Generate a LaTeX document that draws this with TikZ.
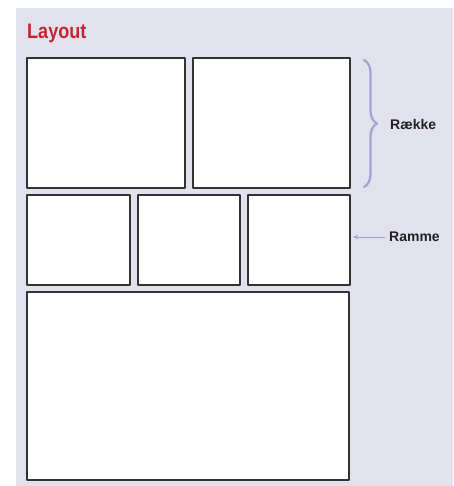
\documentclass[tikz,border=0pt]{standalone}
\usepackage{fontspec}
\setmainfont{Liberation Sans}
\newfontfamily\condfont[FakeStretch=0.86]{Liberation Sans}
\usetikzlibrary{decorations.pathreplacing,arrows.meta}
\definecolor{backdrop}{HTML}{E2E1EE}
\definecolor{frameline}{HTML}{333333}
\definecolor{braceblue}{HTML}{A0A4CE}
\definecolor{titlered}{HTML}{C3262E}
\definecolor{labeltext}{HTML}{222222}

\begin{document}
\begin{tikzpicture}[x=1pt,y=-1pt,line cap=round,line join=round,
    panel/.style={draw=frameline,fill=white,line width=1.9pt,anchor=north west,inner sep=0pt,outer sep=0pt},
    tag/.style={anchor=west,text=labeltext,font=\bfseries\fontsize{14}{14}\selectfont,inner sep=0pt}]
  \useasboundingbox (0,0) rectangle (453,486);
  \fill[backdrop] (16,8) rectangle (453,486);
  \node[anchor=base west,inner sep=0pt,text=titlered,font=\condfont\bfseries\fontsize{21}{21}\selectfont] (title) at (27,39) {Layout};
  % top row
  \node[panel,minimum width=158pt,minimum height=130pt] (p1) at (27,58) {};
  \node[panel,minimum width=157pt,minimum height=130pt] (p2) at (193,58) {};
  % middle row
  \node[panel,minimum width=103pt,minimum height=90pt] (p3) at (27,195) {};
  \node[panel,minimum width=102pt,minimum height=90pt] (p4) at (138,195) {};
  \node[panel,minimum width=102pt,minimum height=90pt] (p5) at (248,195) {};
  % bottom
  \node[panel,minimum width=322pt,minimum height=188pt] (p6) at (27,292) {};
  % labels
  \coordinate (bracetop) at (364,60);
  \coordinate (bracebot) at (364,187);
  \draw[braceblue,line width=2.2pt,decorate,decoration={brace,amplitude=13pt}] (bracetop) -- (bracebot);
  \node[tag] (raekke) at (390,124) {Række};
  \node[tag] (ramme) at (389,237) {Ramme};
  \draw[braceblue,line width=0.8pt,-{Stealth[length=5pt,width=4pt]},shorten <=4pt,shorten >=3pt] (ramme.west) -- (ramme.west -| p5.east);
\end{tikzpicture}
\end{document}
